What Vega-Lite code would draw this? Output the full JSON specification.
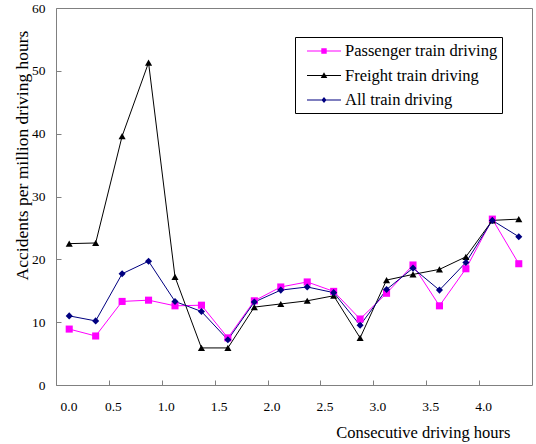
{
  "$schema": "https://vega.github.io/schema/vega-lite/v6.json",
  "width": 476,
  "height": 377,
  "autosize": {"type": "none"},
  "padding": {"left": 56, "top": 8, "right": 4, "bottom": 59},
  "background": "white",
  "config": {
    "font": "Liberation Serif",
    "view": {"stroke": "#808080", "strokeWidth": 1},
    "axis": {
      "grid": false,
      "domain": false,
      "tickColor": "#808080",
      "tickSize": -5,
      "labelFont": "Liberation Serif",
      "labelFontSize": 13.5,
      "labelColor": "black",
      "titleFont": "Liberation Serif",
      "titleFontSize": 16.5,
      "titleFontWeight": "normal",
      "titleColor": "black"
    },
    "legend": {
      "labelFont": "Liberation Serif",
      "labelFontSize": 16.5,
      "labelColor": "black"
    }
  },
  "data": {
    "values": [
      {"h": 0.125, "type": "Passenger train driving", "v": 8.9},
      {"h": 0.375, "type": "Passenger train driving", "v": 7.8},
      {"h": 0.625, "type": "Passenger train driving", "v": 13.3},
      {"h": 0.875, "type": "Passenger train driving", "v": 13.5},
      {"h": 1.125, "type": "Passenger train driving", "v": 12.6},
      {"h": 1.375, "type": "Passenger train driving", "v": 12.7},
      {"h": 1.625, "type": "Passenger train driving", "v": 7.5},
      {"h": 1.875, "type": "Passenger train driving", "v": 13.4},
      {"h": 2.125, "type": "Passenger train driving", "v": 15.6},
      {"h": 2.375, "type": "Passenger train driving", "v": 16.4},
      {"h": 2.625, "type": "Passenger train driving", "v": 14.9},
      {"h": 2.875, "type": "Passenger train driving", "v": 10.5},
      {"h": 3.125, "type": "Passenger train driving", "v": 14.6},
      {"h": 3.375, "type": "Passenger train driving", "v": 19.1},
      {"h": 3.625, "type": "Passenger train driving", "v": 12.6},
      {"h": 3.875, "type": "Passenger train driving", "v": 18.5},
      {"h": 4.125, "type": "Passenger train driving", "v": 26.4},
      {"h": 4.375, "type": "Passenger train driving", "v": 19.3},
      {"h": 0.125, "type": "Freight train driving", "v": 22.5},
      {"h": 0.375, "type": "Freight train driving", "v": 22.6},
      {"h": 0.625, "type": "Freight train driving", "v": 39.6},
      {"h": 0.875, "type": "Freight train driving", "v": 51.3},
      {"h": 1.125, "type": "Freight train driving", "v": 17.2},
      {"h": 1.375, "type": "Freight train driving", "v": 5.9},
      {"h": 1.625, "type": "Freight train driving", "v": 5.9},
      {"h": 1.875, "type": "Freight train driving", "v": 12.4},
      {"h": 2.125, "type": "Freight train driving", "v": 12.9},
      {"h": 2.375, "type": "Freight train driving", "v": 13.4},
      {"h": 2.625, "type": "Freight train driving", "v": 14.2},
      {"h": 2.875, "type": "Freight train driving", "v": 7.5},
      {"h": 3.125, "type": "Freight train driving", "v": 16.7},
      {"h": 3.375, "type": "Freight train driving", "v": 17.6},
      {"h": 3.625, "type": "Freight train driving", "v": 18.4},
      {"h": 3.875, "type": "Freight train driving", "v": 20.4},
      {"h": 4.125, "type": "Freight train driving", "v": 26.2},
      {"h": 4.375, "type": "Freight train driving", "v": 26.4},
      {"h": 0.125, "type": "All train driving", "v": 11.0},
      {"h": 0.375, "type": "All train driving", "v": 10.2},
      {"h": 0.625, "type": "All train driving", "v": 17.7},
      {"h": 0.875, "type": "All train driving", "v": 19.7},
      {"h": 1.125, "type": "All train driving", "v": 13.3},
      {"h": 1.375, "type": "All train driving", "v": 11.7},
      {"h": 1.625, "type": "All train driving", "v": 7.2},
      {"h": 1.875, "type": "All train driving", "v": 13.2},
      {"h": 2.125, "type": "All train driving", "v": 15.1},
      {"h": 2.375, "type": "All train driving", "v": 15.6},
      {"h": 2.625, "type": "All train driving", "v": 14.7},
      {"h": 2.875, "type": "All train driving", "v": 9.5},
      {"h": 3.125, "type": "All train driving", "v": 15.2},
      {"h": 3.375, "type": "All train driving", "v": 18.6},
      {"h": 3.625, "type": "All train driving", "v": 15.1},
      {"h": 3.875, "type": "All train driving", "v": 19.5},
      {"h": 4.125, "type": "All train driving", "v": 26.2},
      {"h": 4.375, "type": "All train driving", "v": 23.6}
    ]
  },
  "encoding": {
    "x": {
      "field": "h",
      "type": "quantitative",
      "scale": {"domain": [0, 4.5], "nice": false},
      "axis": {
        "values": [0, 0.5, 1, 1.5, 2, 2.5, 3, 3.5, 4],
        "format": ".1f",
        "labelOffset": 4,
        "labelPadding": 19,
        "title": "Consecutive driving hours",
        "titleAnchor": "end",
        "titleAlign": "right",
        "titleX": 454,
        "titleY": 52,
        "titleBaseline": "alphabetic"
      }
    },
    "y": {
      "field": "v",
      "type": "quantitative",
      "scale": {"domain": [0, 60], "nice": false},
      "axis": {
        "values": [0, 10, 20, 30, 40, 50, 60],
        "labelPadding": 16,
        "title": "Accidents per million driving hours",
        "titleFontSize": 17.5,
        "titleAngle": 270,
        "titleAlign": "center",
        "titleBaseline": "middle",
        "titleX": -34,
        "titleY": 147
      }
    },
    "color": {
      "field": "type",
      "type": "nominal",
      "scale": {
        "domain": ["Passenger train driving", "Freight train driving", "All train driving"],
        "range": ["#FF00FF", "#000000", "#000080"]
      },
      "legend": {
        "title": null,
        "orient": "none",
        "legendX": 239,
        "legendY": 29,
        "direction": "vertical",
        "padding": 4,
        "strokeColor": "black",
        "fillColor": "white",
        "symbolSize": 400,
        "symbolStrokeWidth": 0,
        "symbolOffset": 15,
        "symbolType": {
          "signal": "datum.value === 'Passenger train driving' ? 'M-1.7,-0.05H1.7V0.05H-1.7Z M-0.27,-0.27H0.27V0.27H-0.27Z' : datum.value === 'Freight train driving' ? 'M-1.7,-0.05H1.7V0.05H-1.7Z M0,-0.33L0.33,0.25H-0.33Z' : 'M-1.7,-0.05H1.7V0.05H-1.7Z M0,-0.3L0.25,0L0,0.3L-0.25,0Z'"
        },
        "rowPadding": 5.5,
        "labelOffset": 11,
        "labelFont": "Liberation Serif",
        "labelFontSize": 16.5,
        "labelColor": "black",
        "labelLimit": 300
      }
    }
  },
  "layer": [
    {
      "mark": {"type": "line", "strokeWidth": 1}
    },
    {
      "mark": {"type": "point", "filled": true, "opacity": 1, "size": 50},
      "encoding": {
        "shape": {
          "field": "type",
          "type": "nominal",
          "legend": null,
          "scale": {
            "domain": ["Freight train driving", "Passenger train driving", "All train driving"],
            "range": ["triangle-up", "square", "diamond"]
          }
        }
      }
    }
  ]
}
